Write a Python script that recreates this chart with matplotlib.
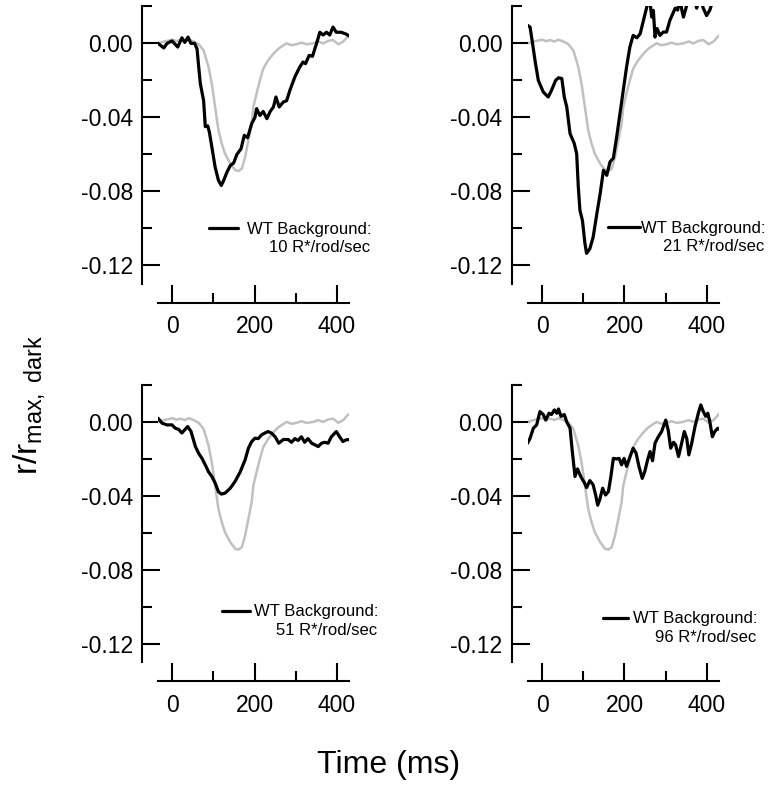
import numpy as np
import matplotlib
matplotlib.use("Agg")
import matplotlib.pyplot as plt
from matplotlib.ticker import FixedLocator, FormatStrFormatter

plt.rcParams['font.family'] = ['Liberation Sans', 'DejaVu Sans']
plt.rcParams['mathtext.fontset'] = 'custom'
plt.rcParams['mathtext.rm'] = 'Liberation Sans'
plt.rcParams['mathtext.it'] = 'Liberation Sans:italic'
plt.rcParams['axes.unicode_minus'] = False

# тёмновой ответ (серый, одинаковый во всех панелях)
t_dark = [-35, -20, 0, 10, 20, 30, 40, 52, 64, 76, 88, 96, 104, 112, 120, 128, 141, 153, 161, 169,
          177, 185, 193, 197, 205, 213, 221, 233, 246, 258, 270, 278, 290, 302, 314, 326, 343,
          355, 367, 379, 391, 404, 416, 428]
r_dark = [0.0, 0.001, 0.002, 0.0012, 0.0018, 0.001, 0.002, 0.001, -0.0005, -0.0038, -0.0128, -0.022,
          -0.0344, -0.047, -0.054, -0.0596, -0.065, -0.0686, -0.069, -0.0677, -0.0614, -0.0524,
          -0.0434, -0.0344, -0.027, -0.020, -0.0137, -0.0092, -0.0056, -0.0029, -0.0011, 0.0,
          -0.001, -0.0005, 0.0004, -0.0005, 0.0, 0.001, 0.0, 0.0013, 0.0018, -0.0005, 0.001, 0.004]

# фоны 10, 21, 51, 96 R*/rod/sec
t_10 = [-35, -21, -13, -1, 13, 23, 30, 38, 45, 54, 60, 64, 68, 76, 80, 86, 90, 96, 104, 112, 119,
        124, 133, 141, 149, 157, 167, 175, 183, 193, 201, 205, 213, 221, 230, 238, 246, 252, 260,
        270, 278, 286, 298, 310, 318, 324, 333, 341, 351, 359, 367, 375, 383, 391, 399, 411, 423, 430]
r_10 = [0.0, -0.0025, 0.0, 0.0013, -0.002, 0.003, 0.0005, 0.0034, 0.0, 0.0, -0.003, -0.0128, -0.0218,
        -0.031, -0.045, -0.0446, -0.048, -0.056, -0.0669, -0.074, -0.0768, -0.0745, -0.0695, -0.066,
        -0.0647, -0.060, -0.057, -0.0497, -0.051, -0.0434, -0.0400, -0.0353, -0.039, -0.0368, -0.0407,
        -0.0368, -0.0344, -0.029, -0.0344, -0.0317, -0.031, -0.0254, -0.0182, -0.0128, -0.0101, -0.011,
        -0.0065, -0.007, 0.0, 0.006, 0.0045, 0.006, 0.0045, 0.0088, 0.006, 0.006, 0.005, 0.004]

t_21 = [-35, -29, -23, -17, -9, 3, 15, 23, 33, 40, 48, 54, 60, 68, 78, 84, 88, 92, 98, 104, 108, 116,
        124, 133, 141, 149, 157, 165, 173, 181, 189, 197, 205, 213, 221, 230, 238, 246, 254, 260, 266,
        270, 274, 279, 286, 294, 302, 310, 317, 323, 329, 334, 339, 343, 349, 356, 368, 375, 383, 391,
        399, 407, 418, 430]
r_21 = [0.0097, 0.0088, 0.0, -0.0092, -0.020, -0.0263, -0.029, -0.0254, -0.020, -0.0186, -0.019, -0.029,
        -0.0344, -0.0488, -0.054, -0.0596, -0.0777, -0.0903, -0.0957, -0.108, -0.1135, -0.111, -0.1047,
        -0.092, -0.0812, -0.0686, -0.0713, -0.064, -0.062, -0.0506, -0.038, -0.0254, -0.0128, -0.002,
        0.0043, 0.003, 0.0052, 0.0124, 0.0196, 0.026, 0.0142, 0.0178, 0.0034, 0.008, 0.0043, 0.0061,
        0.0061, 0.0124, 0.016, 0.019, 0.018, 0.025, 0.018, 0.0142, 0.019, 0.025, 0.025, 0.019, 0.025,
        0.019, 0.015, 0.018, 0.026, 0.028]

t_51 = [-35, -25, -13, -1, 7, 15, 23, 31, 37, 45, 49, 56, 64, 72, 80, 88, 96, 104, 112, 119, 128, 141,
        153, 165, 177, 185, 193, 201, 209, 217, 225, 233, 241, 250, 259, 270, 282, 290, 298, 306, 314,
        322, 330, 339, 347, 355, 363, 371, 379, 387, 399, 407, 415, 423, 430]
r_51 = [0.002, -0.0007, -0.0016, -0.0016, -0.0034, -0.004, -0.006, -0.004, -0.0025, -0.005, -0.008,
        -0.0133, -0.017, -0.0197, -0.0232, -0.027, -0.0295, -0.033, -0.0377, -0.039, -0.0385, -0.0358,
        -0.032, -0.027, -0.0205, -0.0142, -0.0106, -0.0088, -0.009, -0.007, -0.006, -0.0052, -0.006,
        -0.008, -0.0115, -0.0095, -0.0095, -0.011, -0.009, -0.010, -0.008, -0.011, -0.009, -0.0115,
        -0.0124, -0.0133, -0.0115, -0.011, -0.0115, -0.008, -0.0052, -0.008, -0.0106, -0.0097, -0.0095]

t_96 = [-35, -29, -21, -13, -5, 3, 9, 17, 23, 30, 36, 40, 46, 54, 60, 68, 73, 80, 86, 94, 103, 108,
        116, 124, 130, 135, 140, 147, 154, 161, 167, 173, 181, 187, 193, 199, 205, 213, 221, 228, 235,
        243, 249, 256, 262, 268, 274, 282, 290, 300, 306, 312, 319, 324, 331, 337, 345, 351, 356, 363,
        371, 379, 385, 391, 397, 402, 407, 413, 419, 426, 430]
r_96 = [-0.0115, -0.0088, -0.0034, -0.0016, 0.0056, 0.004, 0.001, 0.0047, 0.004, 0.0065, 0.0047, 0.007,
        0.003, 0.004, 0.0, -0.0034, -0.015, -0.0295, -0.0254, -0.0295, -0.033, -0.0355, -0.0317, -0.034,
        -0.0395, -0.045, -0.042, -0.0358, -0.0395, -0.0377, -0.0295, -0.0197, -0.020, -0.0197, -0.0232,
        -0.0197, -0.024, -0.019, -0.0142, -0.0168, -0.024, -0.0305, -0.027, -0.0205, -0.016, -0.021,
        -0.0115, -0.008, -0.0052, 0.001, -0.0045, -0.0142, -0.011, -0.0124, -0.0187, -0.013, -0.0052,
        -0.009, -0.0178, -0.0115, -0.0025, 0.0047, 0.0092, 0.0056, 0.003, 0.0047, 0.0, -0.008, -0.0052,
        -0.0034, -0.004]

intensities = ['10', '21', '51', '96']
traces = [(t_10, r_10), (t_21, r_21), (t_51, r_51), (t_96, r_96)]

# расположение панелей и легенд
rects = [[0.2034, 0.642, 0.2458, 0.350], [0.679, 0.642, 0.2468, 0.350],
         [0.2034, 0.1646, 0.2458, 0.350], [0.679, 0.1646, 0.2468, 0.350]]
leg_pos = [(0.267, 0.197, 1.75, 0.55), (0.419, 0.201, 1.9, 0.1),
           (0.335, 0.182, 1.7, 0.2), (0.393, 0.157, 1.5, 0.3)]

fig = plt.figure(figsize=(7.77, 7.93), dpi=100)

for i in range(4):
    ax = fig.add_axes(rects[i])
    ax.plot(t_dark, r_dark, color='#c0c0c0', lw=1.8, solid_joinstyle='round')
    t, r = traces[i]
    line, = ax.plot(t, r, color='black', lw=2.3, solid_joinstyle='round', solid_capstyle='round')
    ax.set_xlim(-35, 430)
    ax.set_ylim(-0.13, 0.02)
    for s in ['top', 'right']:
        ax.spines[s].set_visible(False)
    ax.spines['left'].set_position(('outward', 11.5))
    ax.spines['bottom'].set_position(('outward', 13.5))
    for s in ['left', 'bottom']:
        ax.spines[s].set_linewidth(1.5)
    ax.xaxis.set_major_locator(FixedLocator([0, 200, 400]))
    ax.xaxis.set_minor_locator(FixedLocator([100, 300]))
    ax.yaxis.set_major_locator(FixedLocator([0.0, -0.04, -0.08, -0.12]))
    ax.yaxis.set_minor_locator(FixedLocator([0.02, -0.02, -0.06, -0.10]))
    ax.yaxis.set_major_formatter(FormatStrFormatter('%.2f'))
    ax.tick_params(which='major', direction='in', length=13, width=1.5, labelsize=16.5)
    ax.tick_params(which='minor', direction='in', length=7, width=1.5)
    ax.tick_params(axis='y', which='major', pad=6.5)
    ax.tick_params(axis='x', which='major', pad=9)

    lx, ly, hl, hp = leg_pos[i]
    leg = ax.legend([line], ['WT Background:'], loc='center left', bbox_to_anchor=(lx, ly),
                    frameon=False, fontsize=12, handlelength=hl, handletextpad=hp,
                    borderpad=0, borderaxespad=0)
    leg.legend_handles[0].set_linewidth(2.3)
    # вторая строка подписи, выровненная по правому краю первой
    ax.annotate(intensities[i] + ' R*/rod/sec', xy=(1, 0), xycoords=leg.get_texts()[0],
                xytext=(-1, -2.5), textcoords='offset points', ha='right', va='top',
                fontsize=12, annotation_clip=False)

fig.text(0.038, 0.49, r'r/r$_{\mathrm{max,\ dark}}$', rotation=90, ha='center', va='center', fontsize=24)
fig.text(0.5, 0.035, 'Time (ms)', ha='center', va='center', fontsize=23)

fig.canvas.draw()
fig.savefig('out.png', dpi=100)
